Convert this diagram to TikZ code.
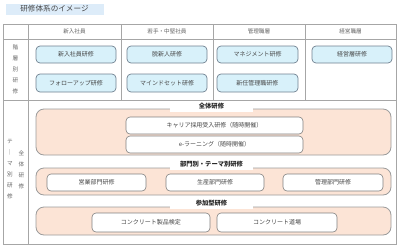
\documentclass[tikz,border=0pt]{standalone}
\usepackage{fontspec}
\setmainfont{Noto Sans CJK JP}
\definecolor{blueF}{RGB}{216,241,250}
\definecolor{blueB}{RGB}{112,128,144}
\definecolor{pinkF}{RGB}{252,228,214}
\definecolor{pinkB}{RGB}{155,155,155}
\definecolor{whiteB}{RGB}{128,128,128}
\definecolor{lineC}{RGB}{166,166,166}
\definecolor{titleF}{RGB}{221,236,249}
\definecolor{txt}{RGB}{70,70,70}
\begin{document}
\begin{tikzpicture}[x=1pt,y=-1pt,
  tline/.style={draw=lineC, line width=0.6pt},
  boxfont/.style={font=\fontsize{6}{7}\selectfont, text=txt},
  bluebox/.style={boxfont, draw=blueB, fill=blueF, rounded corners=4pt, line width=0.7pt, inner sep=0pt},
  pinkbox/.style={draw=pinkB, fill=pinkF, rounded corners=8pt, line width=0.8pt, inner sep=0pt},
  whitebox/.style={boxfont, draw=whiteB, fill=white, rounded corners=4pt, line width=0.6pt, inner sep=0pt},
  tabbox/.style={fill=white, inner sep=0pt, font=\bfseries\fontsize{6.3}{7}\selectfont, text=black!85},
  headtext/.style={font=\fontsize{5.6}{6}\selectfont, text=txt!85},
  vlabel/.style={font=\fontsize{5.6}{11}\selectfont, text=txt!85, align=center, inner sep=0pt}
]
\useasboundingbox (0,0) rectangle (400,250);
% title
\node[fill=titleF, minimum width=98pt, minimum height=11pt, inner sep=0pt] (title) at (55,9.5) {};
\node[font=\fontsize{7.6}{8}\selectfont, text=txt, inner sep=0pt] (titletext) at (54.5,8.5) {研修体系のイメージ};
% table
\draw[tline] (3.5,24.5) rectangle (396,244);
\draw[tline] (3.5,39) -- (396,39);
\draw[tline] (3.5,100) -- (396,100);
\draw[tline] (28,24.5) -- (28,244);
\draw[tline] (121,24.5) -- (121,100);
\draw[tline] (213,24.5) -- (213,100);
\draw[tline] (305,24.5) -- (305,100);
% headers
\node[headtext] (h1) at (74.5,31.5) {新入社員};
\node[headtext] (h2) at (167,31.5) {若手・中堅社員};
\node[headtext] (h3) at (259,31.5) {管理職層};
\node[headtext] (h4) at (350.5,31.5) {経営職層};
% left labels
\node[vlabel] (l1) at (15.5,69) {階\\層\\別\\研\\修};
\node[vlabel] (l2) at (10,169.5) {テ\\｜\\マ\\別\\研\\修};
\node[vlabel] (l3) at (21.5,169.5) {全\\体\\研\\修};
% blue boxes
\node[bluebox, minimum width=80pt, minimum height=17pt] (b1) at (76,54.5) {新入社員研修};
\node[bluebox, minimum width=80pt, minimum height=18pt] (b2) at (76,83) {フォローアップ研修};
\node[bluebox, minimum width=80pt, minimum height=17pt] (b3) at (167,54.5) {脱新人研修};
\node[bluebox, minimum width=80pt, minimum height=18pt] (b4) at (167,83) {マインドセット研修};
\node[bluebox, minimum width=81pt, minimum height=17pt] (b5) at (257.5,54.5) {マネジメント研修};
\node[bluebox, minimum width=81pt, minimum height=18pt] (b6) at (257.5,83) {新任管理職研修};
\node[bluebox, minimum width=80pt, minimum height=17pt] (b7) at (352,54.5) {経営層研修};
% pink boxes
\node[pinkbox, minimum width=355pt, minimum height=46pt] (p1) at (213.5,132) {};
\node[pinkbox, minimum width=355pt, minimum height=27pt] (p2) at (213.5,181.5) {};
\node[pinkbox, minimum width=355pt, minimum height=28pt] (p3) at (213.5,221) {};
% tabs
\node[tabbox, minimum width=83pt, minimum height=11pt] (t1) at (211.5,106) {全体研修};
\node[tabbox, minimum width=83pt, minimum height=11pt] (t2) at (211.5,164.5) {部門別・テーマ別研修};
\node[tabbox, minimum width=83pt, minimum height=11pt] (t3) at (211.5,203.5) {参加型研修};
% white boxes
\node[whitebox, minimum width=177pt, minimum height=17pt] (w1) at (214.5,125.5) {キャリア採用受入研修（随時開催）};
\node[whitebox, minimum width=177pt, minimum height=17pt] (w2) at (214.5,144.5) {e-ラーニング（随時開催）};
\node[whitebox, minimum width=99pt, minimum height=17pt] (w3) at (96.5,182.5) {営業部門研修};
\node[whitebox, minimum width=98pt, minimum height=17pt] (w4) at (215,182.5) {生産部門研修};
\node[whitebox, minimum width=100pt, minimum height=17pt] (w5) at (333,182.5) {管理部門研修};
\node[whitebox, minimum width=118pt, minimum height=19pt] (w6) at (151,222.5) {コンクリート製品検定};
\node[whitebox, minimum width=120pt, minimum height=19pt] (w7) at (277,222.5) {コンクリート道場};
\end{tikzpicture}
\end{document}
